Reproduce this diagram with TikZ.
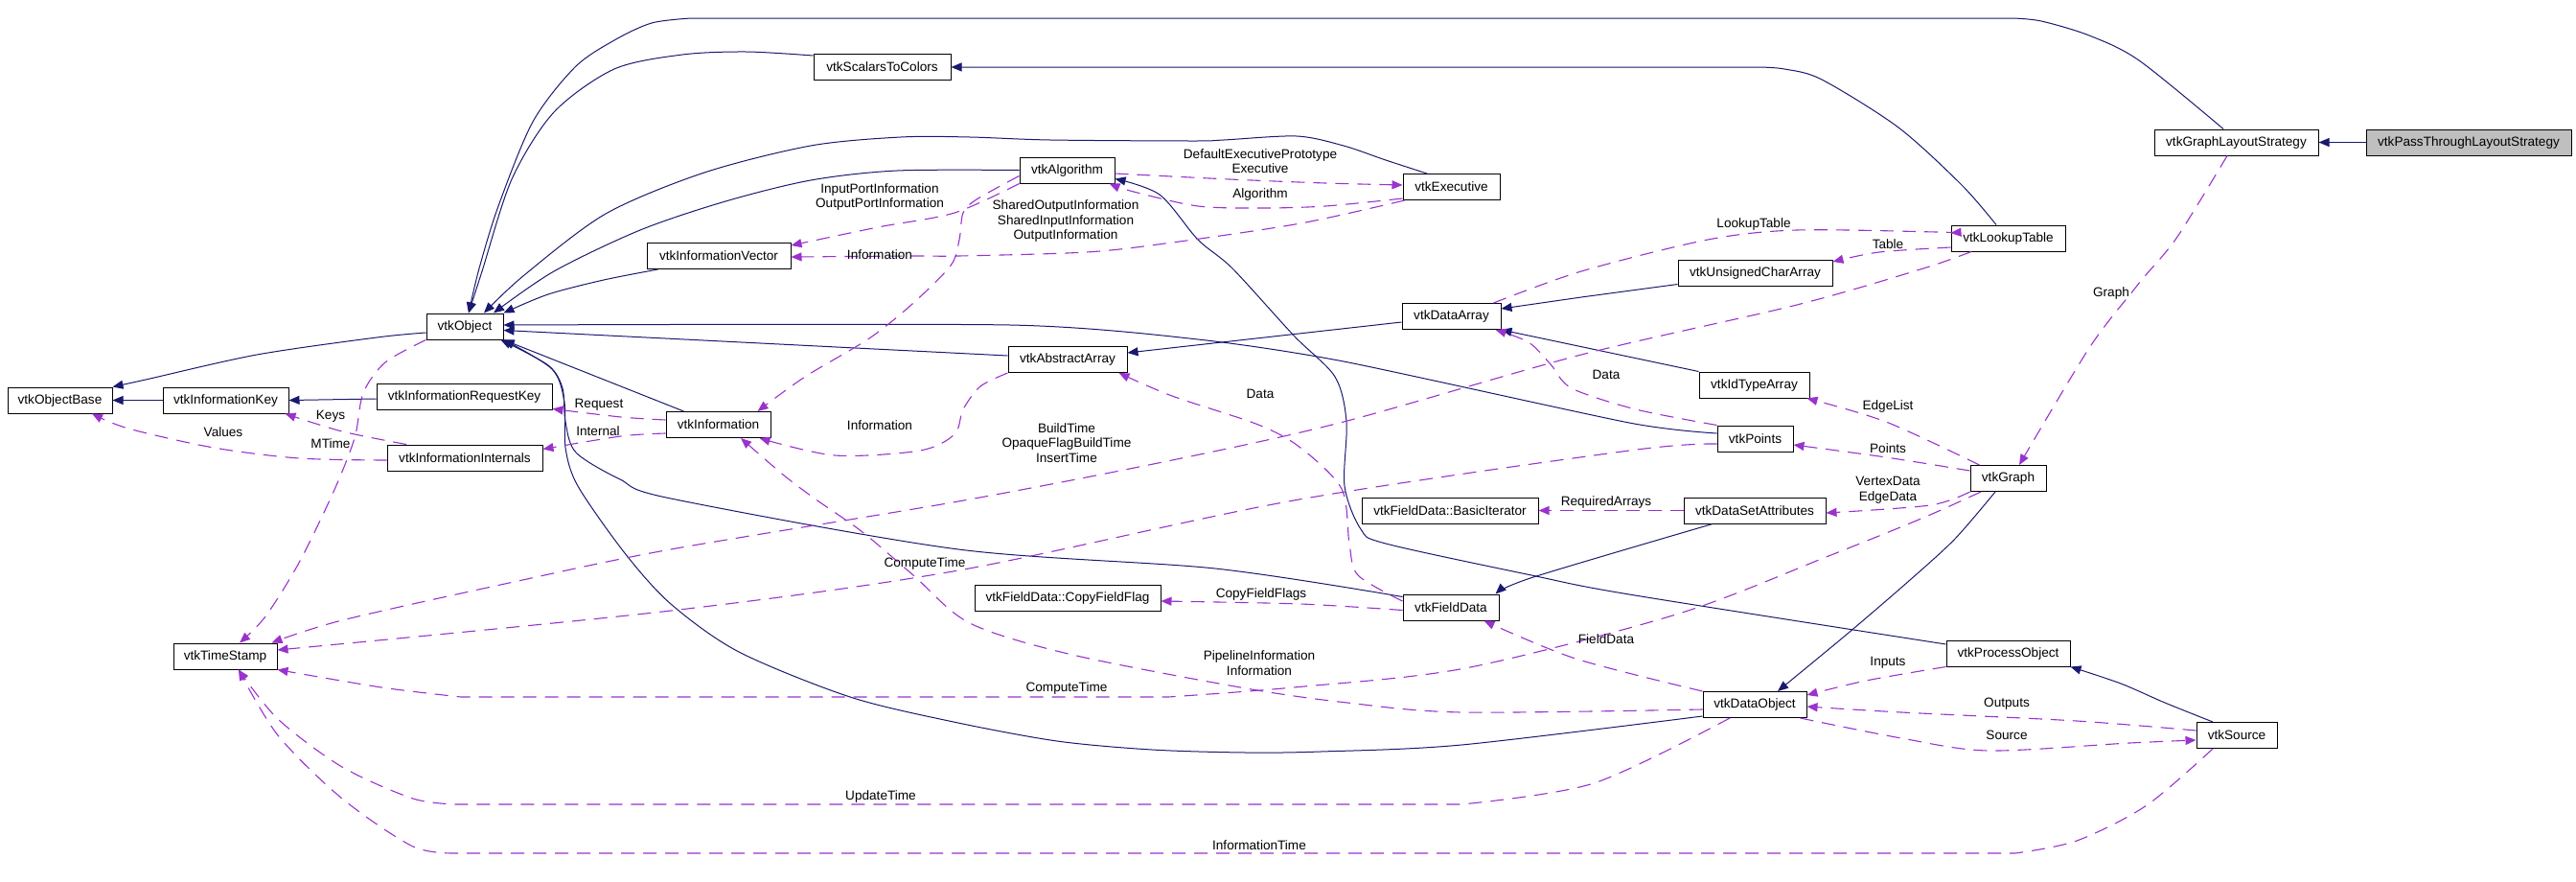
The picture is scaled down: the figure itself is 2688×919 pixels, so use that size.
\documentclass[tikz,border=0pt]{standalone}
\usepackage{fontspec}
\setmainfont{Liberation Sans}
\usetikzlibrary{arrows.meta}
\definecolor{navyc}{HTML}{191970}
\definecolor{purp}{HTML}{9A32CD}
\definecolor{hilite}{HTML}{BFBFBF}
\newcommand{\lblfont}{\fontsize{13.6}{15.5}\selectfont}
\tikzset{
  cls/.style={draw=black, line width=1pt, minimum height=27pt, inner sep=0pt, font=\lblfont},
  inh/.style={draw=navyc, line width=1pt, -{Triangle[length=11pt,width=9pt]}, fill=none},
  use/.style={draw=purp, line width=1.1pt, dash pattern=on 14pt off 9pt, -{Triangle[length=11pt,width=9pt]}, fill=none},
  lab/.style={font=\lblfont, inner sep=0pt, align=center},
}
\begin{document}
\begin{tikzpicture}[x=1pt,y=-1pt]
\useasboundingbox (0,0) rectangle (2688,919);
% ---------- classes ----------
\node[cls, minimum width=109pt] (objbase) at (62.5,417.5) {vtkObjectBase};
\node[cls, minimum width=131pt] (infokey) at (235.5,417.5) {vtkInformationKey};
\node[cls, minimum width=183pt] (reqkey) at (484.5,413.5) {vtkInformationRequestKey};
\node[cls, minimum width=162pt] (internals) at (485,477.5) {vtkInformationInternals};
\node[cls, minimum width=80pt] (object) at (485,340.5) {vtkObject};
\node[cls, minimum width=108pt] (timestamp) at (235,684.5) {vtkTimeStamp};
\node[cls, minimum width=150pt] (infovec) at (750,267) {vtkInformationVector};
\node[cls, minimum width=109pt] (information) at (749.5,443) {vtkInformation};
\node[cls, minimum width=99pt] (algorithm) at (1113.5,177.5) {vtkAlgorithm};
\node[cls, minimum width=101pt] (executive) at (1514.5,195) {vtkExecutive};
\node[cls, minimum width=143pt] (scalars) at (920.5,70) {vtkScalarsToColors};
\node[cls, minimum width=124pt] (abstractarray) at (1114,375) {vtkAbstractArray};
\node[cls, minimum width=103pt] (dataarray) at (1514.5,330) {vtkDataArray};
\node[cls, minimum width=161pt] (ucarray) at (1831.5,284.5) {vtkUnsignedCharArray};
\node[cls, minimum width=119pt] (lookuptable) at (2095.5,248.5) {vtkLookupTable};
\node[cls, minimum width=171pt] (gls) at (2333.5,148.5) {vtkGraphLayoutStrategy};
\node[cls, minimum width=214pt, fill=hilite] (passthrough) at (2576,148.5) {vtkPassThroughLayoutStrategy};
\node[cls, minimum width=115pt] (idtype) at (1830.5,401.5) {vtkIdTypeArray};
\node[cls, minimum width=79pt] (points) at (1831.5,457.5) {vtkPoints};
\node[cls, minimum width=79pt] (graph) at (2095.5,499) {vtkGraph};
\node[cls, minimum width=148pt] (dsa) at (1831,532.5) {vtkDataSetAttributes};
\node[cls, minimum width=184pt] (basiciter) at (1513,532.5) {vtkFieldData::BasicIterator};
\node[cls, minimum width=194pt] (copyflag) at (1114,623.5) {vtkFieldData::CopyFieldFlag};
\node[cls, minimum width=100pt] (fielddata) at (1514,633.5) {vtkFieldData};
\node[cls, minimum width=129pt] (processobj) at (2095.5,681.5) {vtkProcessObject};
\node[cls, minimum width=108pt] (dataobject) at (1831,735) {vtkDataObject};
\node[cls, minimum width=84pt] (source) at (2334,767) {vtkSource};
% ---------- inheritance ----------
\draw[inh] plot[smooth, tension=0.5] coordinates {([yshift=-6.5pt]object.west) (393,352) (268,370) (152,396) (objbase.north east)};
\draw[inh] (infokey.west) -- (objbase.east);
\draw[inh] ([yshift=-2.5pt]reqkey.west) -- (infokey.east);
\draw[inh] plot[smooth, tension=0.5] coordinates {([xshift=-13.5pt]gls.north) (2232,63) (2180,37) (2130,22) (2100,19)} -- plot[smooth, tension=0.5] coordinates {(721,19) (680,24) (641,42) (600,70) (556,127) (520,215) (500,280) ([xshift=4pt]object.north)};
\draw[inh] plot[smooth, tension=0.5] coordinates {([yshift=12pt]scalars.west) (779,54) (712,57) (641,72) (578,117) (534,187) (503,283) ([xshift=4pt]object.north)};
\draw[inh] plot[smooth, tension=0.5] coordinates {([xshift=-25.5pt]executive.north) (1446,167) (1402,152) (1353,142) (1277,146) (1245,147) (1096,146) (1012,143) (940,143) (846,152) (735,180) (632,223) (547,287) ([xshift=20pt]object.north)};
\draw[inh] plot[smooth, tension=0.5] coordinates {(algorithm.west) (936,178) (846,188) (757,210) (668,240) (578,283) ([xshift=30pt]object.north)};
\draw[inh] plot[smooth, tension=0.5] coordinates {([xshift=12pt]infovec.south west) (630,292) (572,307) (object.north east)};
\draw[inh] ([yshift=4pt]abstractarray.west) -- ([yshift=-4pt]object.east);
\draw[inh] plot[smooth, tension=0.4] coordinates {([yshift=5.5pt]points.west) (1700,441) (1402,377) (1250,354) (1054,339) ([yshift=1.5pt]object.east)};
\draw[inh] ([xshift=-36pt]information.north) -- (object.south east);
\draw[inh] plot[smooth, tension=0.5] coordinates {([yshift=11pt]fielddata.west) (1268,593) (1000,573) (700,520) (647,500) (601,472) (590,440) (587,405) (572,381) ([xshift=-3pt]object.south east)};
\draw[inh] plot[smooth, tension=0.5] coordinates {([yshift=-12pt]dataobject.west) (1525,777) (1378,784) (1300,785) (1202,782) (1103,773) (995,753) (887,727) (771,680) (700,630) (652,577) (603,507) (590,467) (589,420) (576,385) (object.south east)};
\draw[inh] ([yshift=-6pt]dataarray.west) -- ([yshift=7pt]abstractarray.east);
\draw[inh] ([yshift=-12pt]ucarray.west) -- (1650,310) -- ([yshift=8pt]dataarray.east);
\draw[inh] (idtype.north west) -- (dataarray.south east);
\draw[inh] plot[smooth, tension=0.5] coordinates {([yshift=9.5pt]processobj.west) (1700,620) (1598,600) (1446,567) (1420,552) (1403,507) (1405,440) (1393,393) (1350,350) (1286,280) (1250,250) (1210,203) ([yshift=-9pt]algorithm.east)};
\draw[inh] plot[smooth, tension=0.5] coordinates {([xshift=-44pt]dsa.south) (1600,602) ([xshift=-4pt]fielddata.north east)};
\draw[inh] plot[smooth, tension=0.5] coordinates {([xshift=-13.5pt]graph.south) (2040,562) (1993,605) (1929,660) ([xshift=24pt]dataobject.north)};
\draw[inh] plot[smooth, tension=0.5] coordinates {([xshift=-25pt]source.north) (2259,733) (2213,713) (processobj.south east)};
\draw[inh] plot[smooth, tension=0.5] coordinates {([xshift=-12.5pt]lookuptable.north) (2047,193) (1981,133) (1901,83) (1862,72) (1835,70)} -- (scalars.east);
\draw[inh] (passthrough.west) -- (gls.east);
% ---------- usage ----------
\draw[use] plot[smooth, tension=0.5] coordinates {([yshift=-2.5pt]internals.west) (312,478) (223,467) (134,447) ([xshift=33.5pt]objbase.south)};
\draw[use] plot[smooth, tension=0.5] coordinates {([xshift=-61pt]internals.north) (357,450) ([xshift=-4pt]infokey.south east)};
\draw[use] plot[smooth, tension=0.5] coordinates {([yshift=5pt]information.west) (648,435) ([yshift=-13pt]reqkey.east)};
\draw[use] plot[smooth, tension=0.5] coordinates {([yshift=-9pt]information.west) (648,455) ([yshift=9pt]internals.east)};
\draw[use] plot[smooth, tension=0.5] coordinates {(object.south west) (402,378) (379,410) (370,457) (348,513) (312,587) (277,643) ([xshift=15pt]timestamp.north)};
\draw[use] plot[smooth, tension=0.5] coordinates {(algorithm.south west) (996,222) (916,237) ([yshift=11pt]infovec.east)};
\draw[use] plot[smooth, tension=0.5] coordinates {([xshift=2pt]executive.south west) (1357,233) (1223,253) (1134,263) (1000,267) (953,267) ([yshift=-1pt]infovec.east)};
\draw[use] plot[smooth, tension=0.5] coordinates {([yshift=-3.5pt]algorithm.east) (1283,187) (1383,191) ([yshift=2pt]executive.west)};
\draw[use] plot[smooth, tension=0.5] coordinates {([yshift=-12pt]executive.west) (1383,215) (1317,217) (1250,215) (1183,200) ([xshift=-6pt]algorithm.south east)};
\draw[use] plot[smooth, tension=0.5] coordinates {([yshift=-6pt]algorithm.west) (1019,208) (1005,222) (1001,250) (992,277) (952,317) (907,353) (840,393) ([xshift=-14pt]information.north east)};
\draw[use] plot[smooth, tension=0.5] coordinates {(abstractarray.south west) (1023,403) (1005,427) (996,453) (960,470) (871,475) ([xshift=-12pt]information.south east)};
\draw[use] plot[smooth, tension=0.5] coordinates {([xshift=-38.5pt]lookuptable.south) (2007,280) (1875,318) (1650,370) (1402,440) (1223,480) (1000,523) (700,573) (536,607) (357,647) ([xshift=-6pt]timestamp.north east)};
\draw[use] plot[smooth, tension=0.5] coordinates {([xshift=-8pt]dataarray.north east) (1650,283) (1782,250) (1875,240) (2021,242) ([yshift=5.5pt]lookuptable.west)};
\draw[use] plot[smooth, tension=0.5] coordinates {([yshift=-9.5pt]lookuptable.west) (1961,263) ([yshift=11.5pt]ucarray.east)};
\draw[use] plot[smooth, tension=0.5] coordinates {(points.north west) (1707,427) (1640,405) (1618,380) (1595,357) ([xshift=-6pt]dataarray.south east)};
\draw[use] plot[smooth, tension=0.5] coordinates {([yshift=6.5pt]fielddata.west) (1417,600) (1408,567) (1400,510) (1357,467) (1313,443) (1223,413) ([xshift=-9pt]abstractarray.south east)};
\draw[use] plot[smooth, tension=0.5] coordinates {([yshift=-3pt]fielddata.west) (1357,630) ([yshift=-3.5pt]copyflag.east)};
\draw[use] (dsa.west) -- (basiciter.east);
\draw[use] plot[smooth, tension=0.5] coordinates {([xshift=10pt]graph.north west) (1968,440) ([xshift=-3pt]idtype.south east)};
\draw[use] plot[smooth, tension=0.5] coordinates {([yshift=8pt]graph.west) (1968,477) ([yshift=-6.5pt]points.east)};
\draw[use] plot[smooth, tension=0.5] coordinates {(graph.south west) (2014,527) ([yshift=-2.5pt]dsa.east)};
\draw[use] plot[smooth, tension=0.5] coordinates {([xshift=-9.5pt]gls.south) (2272,247) (2239,287) (2226,303) (2180,363) ([xshift=11.5pt]graph.north)};
\draw[use] plot[smooth, tension=0.5] coordinates {([yshift=-5.5pt]points.west) (1700,470) (1350,522) (1000,595) (700,637) ([yshift=6.5pt]timestamp.east)};
\draw[use] plot[smooth, tension=0.5] coordinates {([xshift=-28.5pt]graph.south) (2007,540) (1908,580) (1752,640) (1529,697) (1350,717) (1219,727)} -- plot[smooth, tension=0.5] coordinates {(481,727) (398,717) (timestamp.south east)};
\draw[use] plot[smooth, tension=0.5] coordinates {([yshift=-5pt]dataobject.west) (1525,743) (1406,733) (1300,718) (1119,683) (1012,650) (953,600) (900,555) (850,520) (817,495) ([xshift=23.5pt]information.south)};
\draw[use] plot[smooth, tension=0.5] coordinates {(dataobject.north west) (1644,687) ([xshift=-16pt]fielddata.south east)};
\draw[use] plot[smooth, tension=0.5] coordinates {(processobj.south west) (1947,710) ([yshift=10pt]dataobject.east)};
\draw[use] plot[smooth, tension=0.5] coordinates {([yshift=5pt]source.west) (2167,752) (1984,743) ([yshift=-2pt]dataobject.east)};
\draw[use] plot[smooth, tension=0.5] coordinates {([xshift=-7pt]dataobject.south east) (1984,770) (2075,783) (2222,775) ([yshift=-5pt]source.west)};
\draw[use] plot[smooth, tension=0.5] coordinates {([xshift=-26pt]dataobject.south) (1663,817) (1525,839)} -- plot[smooth, tension=0.5] coordinates {(477,839) (431,833) (357,800) (290,750) ([xshift=14pt]timestamp.south)};
\draw[use] plot[smooth, tension=0.5] coordinates {([xshift=-25pt]source.south) (2240,840) (2167,877) (2103,890)} -- plot[smooth, tension=0.5] coordinates {(477,890) (431,883) (357,833) (290,767) ([xshift=14pt]timestamp.south)};
% ---------- labels ----------
\node[lab] (l1) at (233,451) {Values};
\node[lab] (l2) at (345,434) {Keys};
\node[lab] (l3) at (345,463) {MTime};
\node[lab] (l4) at (625,422) {Request};
\node[lab] (l5) at (624,450) {Internal};
\node[lab] (l6) at (918,205.5) {InputPortInformation\\OutputPortInformation};
\node[lab] (l7) at (918,266) {Information};
\node[lab] (l8) at (918,444) {Information};
\node[lab] (l9) at (1112,230.5) {SharedOutputInformation\\SharedInputInformation\\OutputInformation};
\node[lab] (l10) at (1315,168) {DefaultExecutivePrototype\\Executive};
\node[lab] (l11) at (1315,203) {Algorithm};
\node[lab] (l12) at (1830,234) {LookupTable};
\node[lab] (l13) at (1970,255) {Table};
\node[lab] (l14) at (2203,306) {Graph};
\node[lab] (l15) at (1676,391) {Data};
\node[lab] (l16) at (1315,411) {Data};
\node[lab] (l17) at (1970,424) {EdgeList};
\node[lab] (l18) at (1970,468) {Points};
\node[lab] (l19) at (1970,511) {VertexData\\EdgeData};
\node[lab] (l20) at (1676,524) {RequiredArrays};
\node[lab] (l21) at (1113,462) {BuildTime\\OpaqueFlagBuildTime\\InsertTime};
\node[lab] (l22) at (965,588) {ComputeTime};
\node[lab] (l23) at (1316,620) {CopyFieldFlags};
\node[lab] (l24) at (1676,667) {FieldData};
\node[lab] (l25) at (1970,691) {Inputs};
\node[lab] (l26) at (1314,691.5) {PipelineInformation\\Information};
\node[lab] (l27) at (1113,718) {ComputeTime};
\node[lab] (l28) at (2094,734) {Outputs};
\node[lab] (l29) at (2094,767) {Source};
\node[lab] (l30) at (919,831) {UpdateTime};
\node[lab] (l31) at (1314,882) {InformationTime};
\end{tikzpicture}
\end{document}
